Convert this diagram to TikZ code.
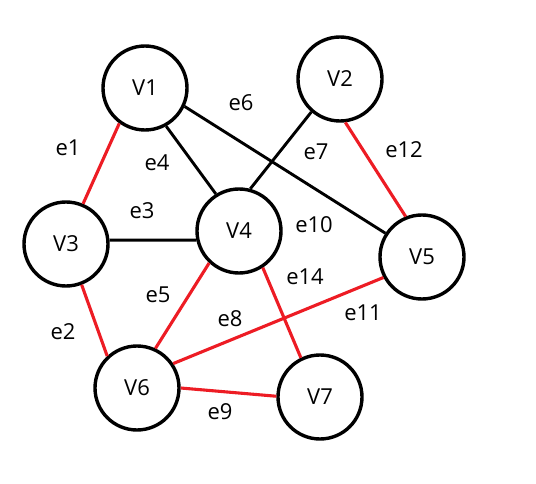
\documentclass[tikz,border=0pt]{standalone}
\usepackage{fontspec}
\setmainfont{Open Sans}
\definecolor{edgered}{RGB}{237,28,36}
\begin{document}
\begin{tikzpicture}[x=1pt,y=-1pt,
  vert/.style={circle,draw=black,line width=3.4pt,minimum size=84pt,inner sep=0pt,font=\fontsize{22}{24}\selectfont},
  blk/.style={draw=black,line width=2.9pt},
  red/.style={draw=edgered,line width=3.1pt},
  lab/.style={font=\fontsize{22}{24}\selectfont,inner sep=0pt}]
\useasboundingbox (0,0) rectangle (536,484);
\node[vert] (V1) at (145,88) {V1};
\node[vert] (V2) at (340,79) {V2};
\node[vert] (V3) at (66,244) {V3};
\node[vert] (V4) at (239,231) {V4};
\node[vert] (V5) at (422,257) {V5};
\node[vert] (V6) at (137,388) {V6};
\node[vert] (V7) at (320,397) {V7};
\draw[red] (V1.234) -- (V3.67);
\draw[red] (V3.291) -- (V6.133);
\draw[blk] (V3.5) -- (V4.192);
\draw[blk] (V1.299) -- (V4.122);
\draw[red] (V4.227) -- (V6.65);
\draw[blk] (V1.335) -- (V5.147);
\draw[blk] (V2.229) -- (V4.75);
\draw[red] (V5.208) -- (V6.34);
\draw[red] (V6.0) -- (V7.179);
\draw[red] (V2.277) -- (V5.112);
\draw[red] (V4.303) -- (V7.116);
\node[lab] (l1) at (68,148) {e1};
\node[lab] (l4) at (157,163) {e4};
\node[lab] (l6) at (241,103) {e6};
\node[lab] (l7) at (316,152) {e7};
\node[lab] (l12) at (404,150) {e12};
\node[lab] (l3) at (142,211) {e3};
\node[lab] (l10) at (314,225) {e10};
\node[lab] (l14) at (305,277) {e14};
\node[lab] (l5) at (158,295) {e5};
\node[lab] (l8) at (230,319) {e8};
\node[lab] (l11) at (363,313) {e11};
\node[lab] (l2) at (63,332) {e2};
\node[lab] (l9) at (220,412) {e9};
\end{tikzpicture}
\end{document}
